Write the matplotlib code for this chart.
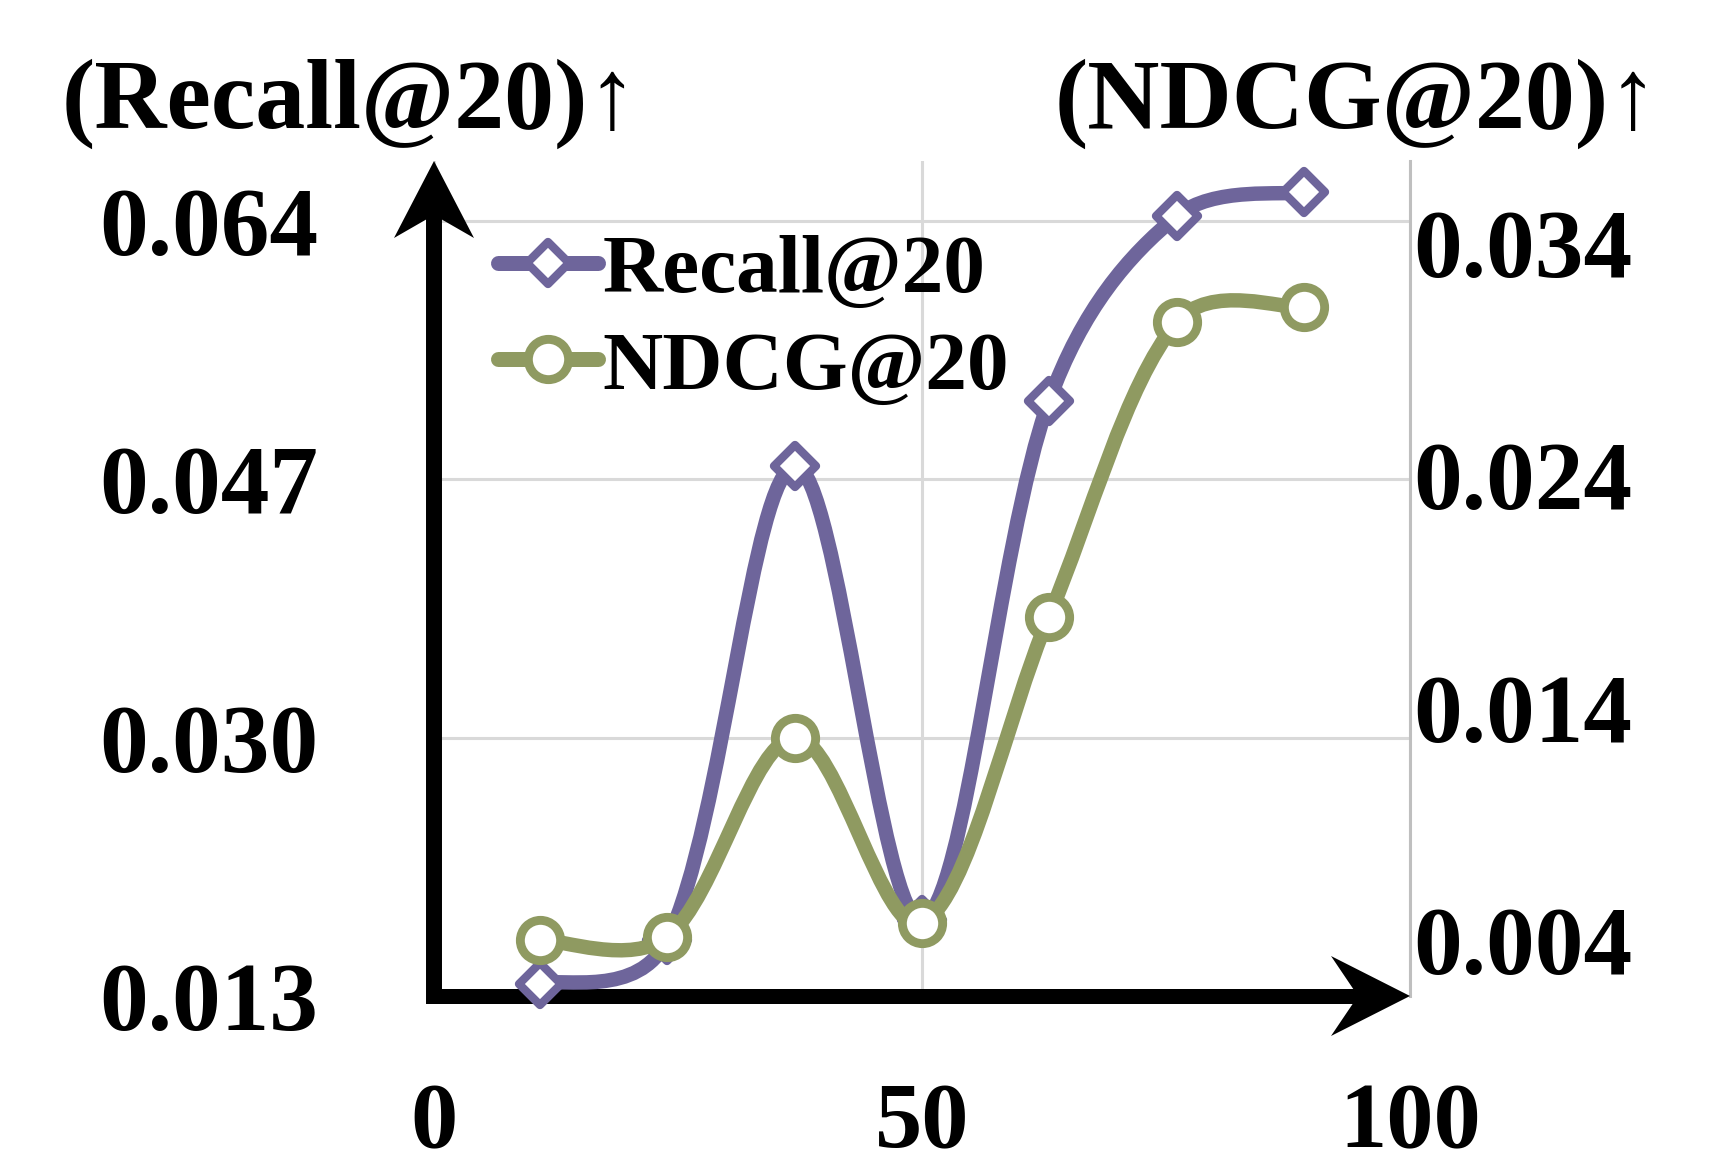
import matplotlib
matplotlib.use('Agg')
import numpy as np
import matplotlib.pyplot as plt
from matplotlib.path import Path
from matplotlib.patches import PathPatch, Polygon
from matplotlib.lines import Line2D
from matplotlib.markers import MarkerStyle
import matplotlib.transforms as mtransforms

# ---------------- data ----------------
x_values = [10.9, 23.9, 37.0, 50.0, 63.0, 76.1, 89.1]
recall = [0.01379, 0.01669, 0.04786, 0.01800, 0.05214, 0.06433, 0.06591]
ndcg = [0.00400, 0.00413, 0.01271, 0.00473, 0.01792, 0.03059, 0.03124]

x_ticks = [0, 50, 100]
x_tick_labels = ['0', '50', '100']
recall_ticks = [0.013, 0.030, 0.047, 0.064]
recall_tick_labels = ['0.013', '0.030', '0.047', '0.064']
ndcg_ticks = [0.004, 0.014, 0.024, 0.034]
ndcg_tick_labels = ['0.004', '0.014', '0.024', '0.034']
series_names = ['Recall@20', 'NDCG@20']
axis_titles = ['(Recall@20)\u2191', '(NDCG@20)\u2191']

# ---------------- style ----------------
plt.rcParams['font.family'] = ['Liberation Serif', 'DejaVu Serif']
plt.rcParams['font.weight'] = 'bold'
PURPLE = '#6e659b'
GREEN = '#8f9a61'
GRID = '#d9d9d9'
LW = 10.4

diamond = MarkerStyle('D', joinstyle='round')
circle = MarkerStyle('o')
D_MS, D_MEW = 21, 6.0
C_MS, C_MEW = 29, 6.4


def smooth_path(xs, ys, trans):
    """Smoothed Bezier path through the data points (computed in display space)."""
    P = trans.transform(np.column_stack([xs, ys]))
    n = len(P)
    w = [float(np.hypot(*(P[i + 1] - P[i]))) ** 0.5 for i in range(n - 1)]
    T = []
    for i in range(n):
        a = P[i - 1] if i > 0 else P[i]
        b = P[i + 1] if i < n - 1 else P[i]
        T.append(b - a)
    verts = [P[0]]
    codes = [Path.MOVETO]
    for i in range(n - 1):
        wp = w[i - 1] if i > 0 else w[i]
        wn = w[i + 1] if i + 1 < n - 1 else w[i]
        c1 = P[i] + T[i] * w[i] / (3 * (wp + w[i]))
        c2 = P[i + 1] - T[i + 1] * w[i] / (3 * (w[i] + wn))
        verts += [c1, c2, P[i + 1]]
        codes += [Path.CURVE4] * 3
    verts = trans.inverted().transform(np.array(verts))
    return Path(verts, codes)


fig = plt.figure(figsize=(17.24, 11.75), dpi=100)
W, H = 1724, 1175
ax = fig.add_axes([434 / W, (H - 996) / H, 976 / W, 835 / H])
ax2 = ax.twinx()

YL = (0.013, 0.06795)
YR = (0.001586, 0.03753)
ax.set_xlim(0, 100)
ax.set_ylim(*YL)
ax2.set_ylim(*YR)

# ticks / grid
ax.set_xticks(x_ticks, x_tick_labels)
ax.set_yticks(recall_ticks, recall_tick_labels)
ax2.set_yticks(ndcg_ticks, ndcg_tick_labels)
ax.grid(True, color=GRID, lw=2.2, zorder=0)
ax.set_axisbelow(True)

# spines
for s in ['top', 'right']:
    ax.spines[s].set_visible(False)
ax.spines['left'].set_color('black')
ax.spines['left'].set_linewidth(11.5)
ax.spines['left'].set_bounds(YL[0], YL[1] - 0.0025)
ax.spines['bottom'].set_color('black')
ax.spines['bottom'].set_linewidth(10.8)
ax.spines['bottom'].set_bounds(0, 96)
for s in ['top', 'left', 'bottom']:
    ax2.spines[s].set_visible(False)
ax2.spines['right'].set_color('#bfbfbf')
ax2.spines['right'].set_linewidth(2.2)

ax.tick_params(axis='y', length=0, pad=83, labelsize=70)
ax.tick_params(axis='x', length=0, pad=62, labelsize=68)
ax2.tick_params(axis='y', length=0, pad=2, labelsize=70)

# series
p1 = PathPatch(smooth_path(x_values, recall, ax.transData), fill=False, edgecolor=PURPLE,
               lw=LW, capstyle='round', joinstyle='round', zorder=3, clip_on=False)
ax.add_patch(p1)
ax.plot(x_values, recall, linestyle='none', marker=diamond, ms=D_MS,
        mfc='white', mec=PURPLE, mew=D_MEW, zorder=4, clip_on=False)

p2 = PathPatch(smooth_path(x_values, ndcg, ax2.transData), fill=False, edgecolor=GREEN,
               lw=LW, capstyle='round', joinstyle='round', zorder=3, clip_on=False)
ax2.add_patch(p2)
ax2.plot(x_values, ndcg, linestyle='none', marker=circle, ms=C_MS,
         mfc='white', mec=GREEN, mew=C_MEW, zorder=4, clip_on=False)

ax.set_xlim(0, 100)
ax.set_ylim(*YL)
ax2.set_ylim(*YR)

# legend
handles = [
    Line2D([], [], color=PURPLE, lw=10.8, solid_capstyle='round', marker=diamond,
           ms=D_MS, mfc='white', mec=PURPLE, mew=D_MEW),
    Line2D([], [], color=GREEN, lw=10.8, solid_capstyle='round', marker=circle,
           ms=C_MS, mfc='white', mec=GREEN, mew=C_MEW),
]
ax2.legend(handles, series_names, loc='center left', bbox_to_anchor=(0.0656, 0.8094),
           frameon=False, fontsize=60, handlelength=1.2, handletextpad=0.05,
           labelspacing=0.24, borderpad=0, borderaxespad=0, numpoints=1)

# axis arrowheads
trans_top = fig.dpi_scale_trans + mtransforms.ScaledTranslation(0, 1, ax.transAxes)
fig.add_artist(Polygon([(0, 0), (-0.40, -0.77), (0, -0.54), (0.40, -0.77)], closed=True,
                       transform=trans_top, facecolor='black', edgecolor='none', zorder=5))
trans_right = fig.dpi_scale_trans + mtransforms.ScaledTranslation(1, 0, ax.transAxes)
fig.add_artist(Polygon([(0, 0), (-0.79, 0.40), (-0.52, 0), (-0.79, -0.40)], closed=True,
                       transform=trans_right, facecolor='black', edgecolor='none', zorder=5))

# axis titles
fig.text(350 / W, 1 - 128 / H, axis_titles[0], ha='center', va='baseline', fontsize=72)
fig.text(1357 / W, 1 - 128 / H, axis_titles[1], ha='center', va='baseline', fontsize=72)

fig.savefig('out.png', dpi=100, facecolor='white')
